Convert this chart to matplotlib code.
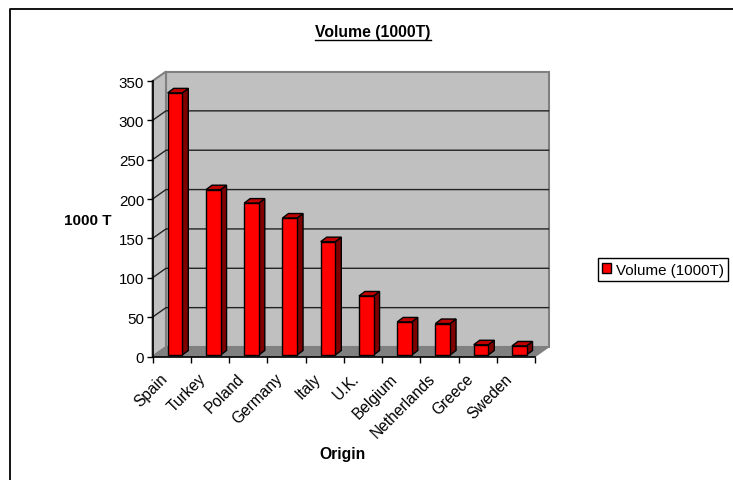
import matplotlib.pyplot as plt
from matplotlib.lines import Line2D
from matplotlib.patches import Patch, Polygon

plt.rcParams['font.family'] = ['Liberation Sans', 'DejaVu Sans']

# data
origins = ["Spain", "Turkey", "Poland", "Germany", "Italy", "U.K.",
           "Belgium", "Netherlands", "Greece", "Sweden"]
volume = [333, 210, 193, 174, 144, 75, 42, 40, 13, 11.5]
y_ticks = [0, 50, 100, 150, 200, 250, 300, 350]

W, H = 733, 481
fig = plt.figure(figsize=(W / 100, H / 100), dpi=100)

# front plane of the fake 3d box, in pixels
left, right, top, bottom = 152.5, 535, 82, 357.5
ax = fig.add_axes([left / W, (H - bottom) / H, (right - left) / W, (bottom - top) / H])
ax.set_xlim(0, len(origins))
ax.set_ylim(0, 350)

px_x = len(origins) / (right - left)
px_y = 350 / (bottom - top)
n = len(origins)

# box depth
dx = 13.5 * px_x
dy = 9.5 * px_y

ax.add_patch(Polygon([(dx, dy), (n + dx, dy), (n + dx, 350 + dy), (dx, 350 + dy)],
                     facecolor="#c0c0c0", edgecolor="#808080", lw=1.5, clip_on=False, zorder=1))
ax.add_patch(Polygon([(0, 0), (dx, dy), (dx, 350 + dy), (0, 350)],
                     facecolor="#c0c0c0", edgecolor="#808080", lw=1.5, clip_on=False, zorder=1))
ax.add_patch(Polygon([(0, 0), (n, 0), (n + dx, dy), (dx, dy)],
                     facecolor="#808080", edgecolor="#808080", lw=1, clip_on=False, zorder=1))

# gridlines wrap around the side wall
for t in y_ticks[1:-1]:
    ax.plot([0, dx, n + dx], [t, t + dy, t + dy], color="#222222", lw=1, clip_on=False, zorder=2)

# bars
bar_off = 15.2 * px_x
bar_w = 14.6 * px_x
bar_dx = 6 * px_x
bar_dy = 4.5 * px_y
lift = 1.5 * px_y
for i, v in enumerate(volume):
    x0 = i + bar_off
    x1 = x0 + bar_w
    y0 = lift
    y1 = lift + v
    ax.add_patch(Polygon([(x1, y0), (x1 + bar_dx, y0 + bar_dy), (x1 + bar_dx, y1 + bar_dy), (x1, y1)],
                         facecolor="#800000", edgecolor="black", lw=1, clip_on=False, zorder=3))
    ax.add_patch(Polygon([(x0, y1), (x1, y1), (x1 + bar_dx, y1 + bar_dy), (x0 + bar_dx, y1 + bar_dy)],
                         facecolor="#c00000", edgecolor="black", lw=1, clip_on=False, zorder=3))
    ax.add_patch(Polygon([(x0, y0), (x1, y0), (x1, y1), (x0, y1)],
                         facecolor="#ff0000", edgecolor="black", lw=1, clip_on=False, zorder=4))

# axes
for side in ["top", "right"]:
    ax.spines[side].set_visible(False)
for side in ["left", "bottom"]:
    ax.spines[side].set_linewidth(1.2)
    ax.spines[side].set_zorder(5)
ax.patch.set_visible(False)

ax.set_yticks(y_ticks)
ax.tick_params(axis="y", labelsize=10.9, length=4, width=1, pad=2)
ax.set_xticks(range(n + 1))
ax.set_xticklabels([])
ax.tick_params(axis="x", which="major", length=4, width=1)
# labels sit left of the category centre in the original
ax.set_xticks([i + 0.2 for i in range(n)], minor=True)
ax.set_xticklabels(origins, minor=True, rotation=45, ha="right", va="top",
                   rotation_mode="anchor", fontsize=11.2)
ax.tick_params(axis="x", which="minor", length=0, pad=10)

fig.text(88 / W, 1 - 221 / H, "1000 T", fontsize=11, fontweight="bold", ha="center", va="center")
fig.text(343 / W, 1 - 455 / H, "Origin", fontsize=11.3, fontweight="bold", ha="center", va="center")
fig.text(373 / W, 1 - 32 / H, "Volume (1000T)", fontsize=11.3, fontweight="bold", ha="center", va="center")
# underline of the title
fig.add_artist(Line2D([315 / W, 431 / W], [1 - 41 / H, 1 - 41 / H], color="black", lw=1))

# outer frame, open on the right and at the bottom
fig.add_artist(Line2D([10 / W, 10 / W, 1], [0, 1 - 10 / H, 1 - 10 / H], color="black", lw=1.3))

handle = Patch(facecolor="#ff0000", edgecolor="black", linewidth=1, label="Volume (1000T)")
fig.legend(handles=[handle], loc="center", bbox_to_anchor=(663 / W, 1 - 270.5 / H),
           fontsize=10.9, fancybox=False, framealpha=1, edgecolor="black",
           handlelength=0.6, handleheight=0.6, handletextpad=0.3, borderpad=0.3, borderaxespad=0)

fig.savefig("out.png", dpi=100)
